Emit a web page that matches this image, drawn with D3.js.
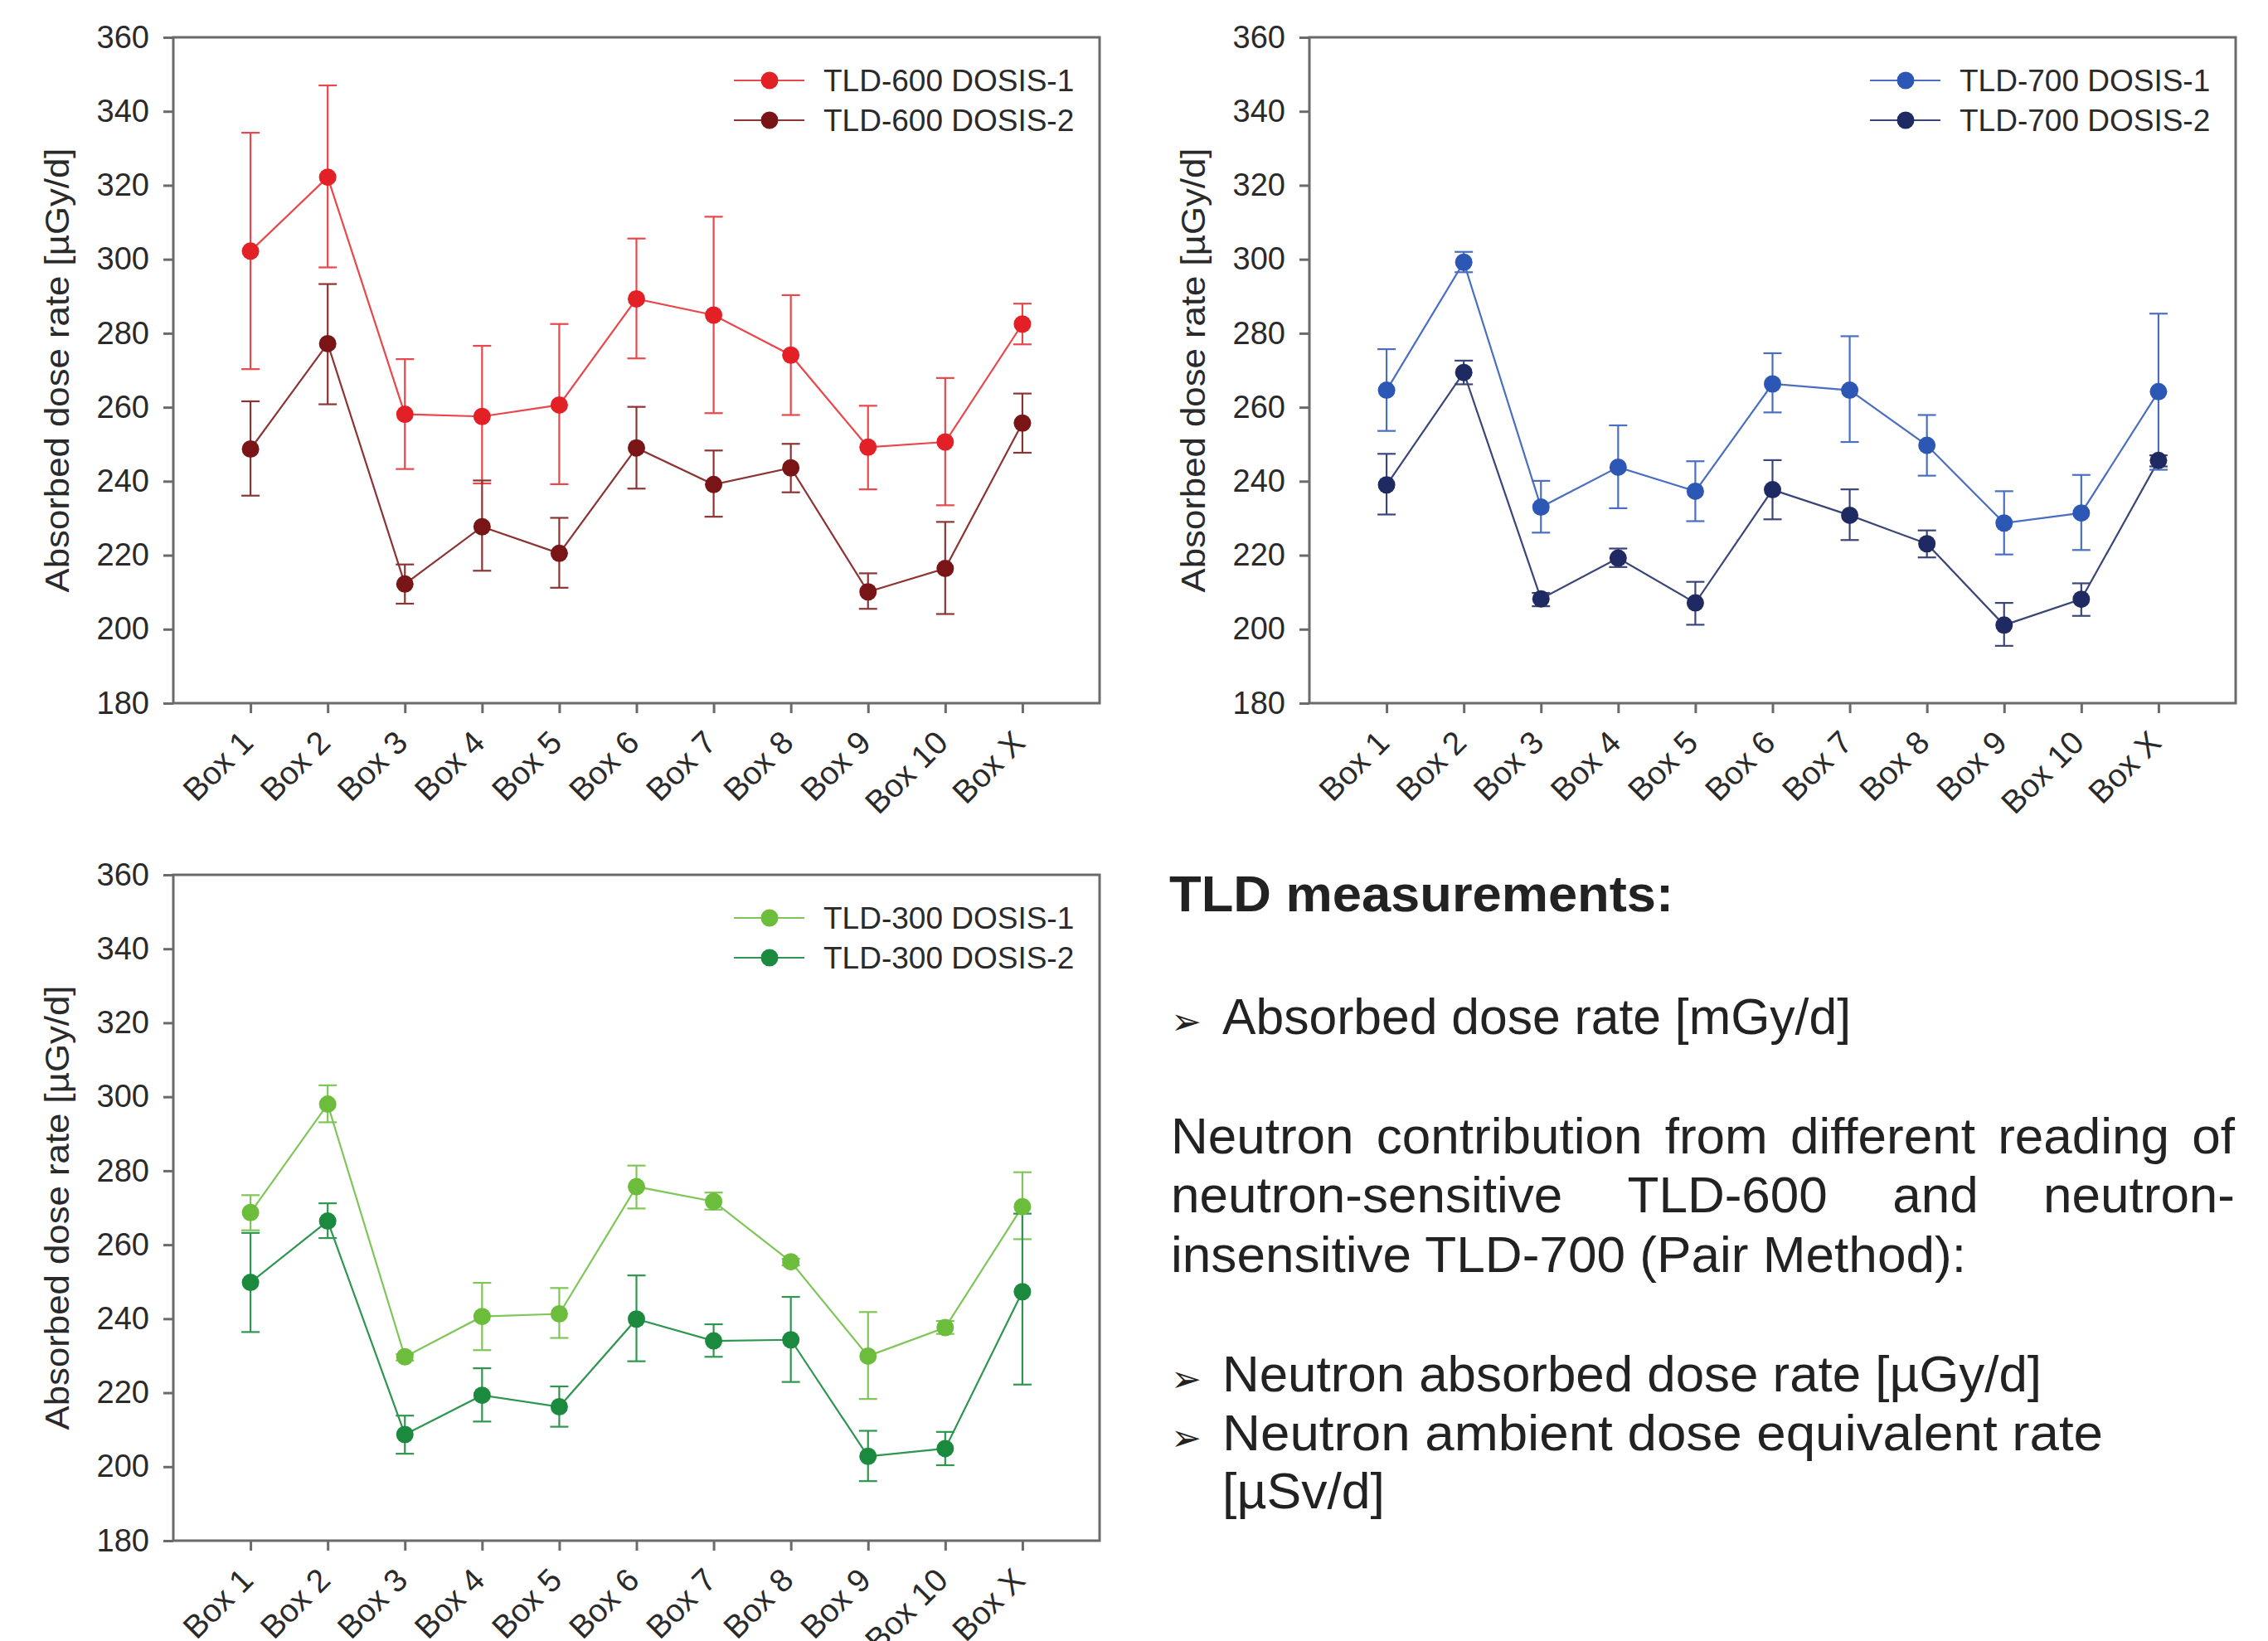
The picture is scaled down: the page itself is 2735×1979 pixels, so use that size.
<!DOCTYPE html>
<html>
<head>
<meta charset="utf-8">
<script src="https://cdn.jsdelivr.net/npm/d3@7"></script>
<style>
  body { margin: 0; background: #fff; }
  svg { display: block; font-family: "Liberation Sans", Arial, sans-serif; }
</style>
</head>
<body>
<svg id="chart" width="2735" height="1979"></svg>
<script>
// categories and ticks
const categories = ["Box 1", "Box 2", "Box 3", "Box 4", "Box 5", "Box 6", "Box 7", "Box 8", "Box 9", "Box 10", "Box X"];
const yTicks = [180, 200, 220, 240, 260, 280, 300, 320, 340, 360];

// TLD-600
const tld600d1 = [302.2, 322.2, 258.1, 257.5, 260.6, 289.3, 284.9, 274.1, 249.2, 250.6, 282.5];
const tld600d1Hi = [334.2, 347.0, 273.0, 276.6, 282.5, 305.6, 311.5, 290.3, 260.4, 267.9, 288.0];
const tld600d1Lo = [270.3, 297.8, 243.3, 239.4, 239.2, 273.2, 258.4, 257.9, 237.8, 233.5, 277.0];
const tld600d2 = [248.7, 277.2, 212.2, 227.7, 220.5, 249.0, 239.1, 243.6, 210.1, 216.4, 255.7];
const tld600d2Hi = [261.6, 293.3, 217.5, 240.2, 230.1, 260.1, 248.3, 250.1, 215.1, 229.0, 263.7];
const tld600d2Lo = [236.1, 260.8, 206.9, 215.8, 211.2, 238.0, 230.4, 237.0, 205.5, 204.1, 247.7];

// TLD-700
const tld700d1 = [264.6, 299.2, 233.0, 243.8, 237.3, 266.3, 264.6, 249.7, 228.7, 231.4, 264.2];
const tld700d1Hi = [275.7, 302.0, 240.1, 255.1, 245.4, 274.6, 279.2, 257.9, 237.3, 241.7, 285.3];
const tld700d1Lo = [253.6, 296.5, 226.1, 232.7, 229.2, 258.6, 250.6, 241.5, 220.2, 221.4, 243.1];
const tld700d2 = [239.0, 269.4, 208.2, 219.2, 207.1, 237.7, 230.8, 223.1, 201.1, 208.1, 245.6];
const tld700d2Hi = [247.4, 272.6, 209.8, 221.8, 212.8, 245.7, 237.8, 226.7, 207.1, 212.4, 247.0];
const tld700d2Lo = [231.0, 266.2, 206.2, 216.8, 201.2, 229.7, 224.1, 219.4, 195.5, 203.6, 244.0];

// TLD-300
const tld300d1 = [268.7, 298.0, 229.7, 240.6, 241.3, 275.7, 271.7, 255.4, 229.9, 237.6, 270.3];
const tld300d1Hi = [273.4, 303.1, 230.4, 249.7, 248.3, 281.4, 274.1, 256.2, 241.8, 239.4, 279.6];
const tld300d1Lo = [263.9, 293.1, 228.7, 231.5, 234.8, 269.8, 269.5, 254.4, 218.3, 235.9, 261.5];
const tld300d2 = [249.8, 266.4, 208.7, 219.3, 216.2, 239.9, 234.0, 234.3, 202.8, 204.9, 247.3];
const tld300d2Hi = [263.2, 271.2, 213.8, 226.6, 221.7, 251.7, 238.5, 245.9, 209.7, 209.4, 268.4];
const tld300d2Lo = [236.4, 261.8, 203.5, 212.2, 210.8, 228.5, 229.7, 222.9, 196.1, 200.4, 222.2];

const yTitle = "Absorbed dose rate [µGy/d]";

const svg = d3.select("#chart");
svg.append("rect").attr("width", 2735).attr("height", 1979).attr("fill", "#fff");

const plotW = 1117, plotH = 803;
const axisColor = "#6a6a6a";
const textColor = "#2a2a2a";

function makeSeries(name, vals, hi, lo, marker, line) {
  return { name, marker, line, points: vals.map((v, i) => ({ cat: categories[i], v, hi: hi[i], lo: lo[i] })) };
}

function drawChart(left, top, series) {
  const g = svg.append("g").attr("transform", `translate(${left},${top})`);
  const x = d3.scalePoint().domain(categories).range([0, plotW]).padding(1);
  const y = d3.scaleLinear().domain([180, 360]).range([plotH, 0]);

  // y axis
  const ya = g.append("g").call(d3.axisLeft(y).tickValues(yTicks).tickSize(12).tickPadding(17));
  ya.select(".domain").remove();
  ya.selectAll(".tick line").attr("stroke", axisColor).attr("stroke-width", 3);
  ya.selectAll(".tick text").attr("font-size", 38).attr("fill", textColor)
    .attr("font-family", "Liberation Sans, Arial, sans-serif");

  // x axis
  const xa = g.append("g").attr("transform", `translate(0,${plotH})`)
    .call(d3.axisBottom(x).tickSize(12));
  xa.select(".domain").remove();
  xa.selectAll(".tick line").attr("stroke", axisColor).attr("stroke-width", 3);
  xa.selectAll(".tick text")
    .attr("font-size", 39).attr("fill", textColor)
    .attr("font-family", "Liberation Sans, Arial, sans-serif")
    .attr("text-anchor", "end")
    .attr("dy", 0)
    .attr("y", 0)
    .attr("transform", "translate(5,50) rotate(-45)");

  // frame
  g.append("rect").attr("width", plotW).attr("height", plotH)
    .attr("fill", "none").attr("stroke", axisColor).attr("stroke-width", 3);

  // y title
  g.append("text")
    .attr("transform", `translate(${-126},${plotH / 2}) rotate(-90)`)
    .attr("text-anchor", "middle")
    .attr("font-size", 41).attr("fill", textColor)
    .attr("textLength", 536).attr("lengthAdjust", "spacingAndGlyphs")
    .text(yTitle);

  const line = d3.line().x(d => x(d.cat)).y(d => y(d.v));

  series.forEach(s => {
    g.append("path").datum(s.points).attr("d", line)
      .attr("fill", "none").attr("stroke", s.line).attr("stroke-width", 2.2);
  });
  series.forEach(s => {
    const eb = g.append("g").attr("stroke", s.line).attr("stroke-width", 2.2);
    eb.selectAll(".bar").data(s.points).enter().append("line")
      .attr("x1", d => x(d.cat)).attr("x2", d => x(d.cat))
      .attr("y1", d => y(d.hi)).attr("y2", d => y(d.lo));
    eb.selectAll(".capHi").data(s.points).enter().append("line")
      .attr("x1", d => x(d.cat) - 11).attr("x2", d => x(d.cat) + 11)
      .attr("y1", d => y(d.hi)).attr("y2", d => y(d.hi));
    eb.selectAll(".capLo").data(s.points).enter().append("line")
      .attr("x1", d => x(d.cat) - 11).attr("x2", d => x(d.cat) + 11)
      .attr("y1", d => y(d.lo)).attr("y2", d => y(d.lo));
  });
  series.forEach(s => {
    g.append("g").selectAll("circle").data(s.points).enter().append("circle")
      .attr("cx", d => x(d.cat)).attr("cy", d => y(d.v)).attr("r", 10.5)
      .attr("fill", s.marker);
  });

  // legend
  const lg = g.append("g").attr("transform", "translate(676,52)");
  series.forEach((s, i) => {
    const row = lg.append("g").attr("transform", `translate(0,${i * 48})`);
    row.append("line").attr("x1", 0).attr("x2", 85).attr("stroke", s.line).attr("stroke-width", 2.2);
    row.append("circle").attr("cx", 43).attr("r", 10.5).attr("fill", s.marker);
    row.append("text").attr("x", 108).attr("dy", "0.36em")
      .attr("font-size", 37).attr("fill", textColor)
      .text(s.name);
  });
}

drawChart(209, 45, [
  makeSeries("TLD-600 DOSIS-1", tld600d1, tld600d1Hi, tld600d1Lo, "#e32026", "#e8474b"),
  makeSeries("TLD-600 DOSIS-2", tld600d2, tld600d2Hi, tld600d2Lo, "#7a1517", "#8c3434")
]);
drawChart(1579, 45, [
  makeSeries("TLD-700 DOSIS-1", tld700d1, tld700d1Hi, tld700d1Lo, "#2c57b4", "#4a6ec0"),
  makeSeries("TLD-700 DOSIS-2", tld700d2, tld700d2Hi, tld700d2Lo, "#1f2a62", "#3b4678")
]);
drawChart(209, 1055, [
  makeSeries("TLD-300 DOSIS-1", tld300d1, tld300d1Hi, tld300d1Lo, "#6bbd3b", "#7fc658"),
  makeSeries("TLD-300 DOSIS-2", tld300d2, tld300d2Hi, tld300d2Lo, "#1b8a3e", "#2f9650")
]);

// text panel
const tx = 1412, tRight = 2695, fs = 62;
const panel = svg.append("g").attr("fill", "#222").attr("font-size", fs);

panel.append("text").attr("x", 1410).attr("y", 1099)
  .attr("font-weight", "bold")
  .attr("textLength", 608).attr("lengthAdjust", "spacingAndGlyphs")
  .text("TLD measurements:");

function fitted(x, y, str, w) {
  return panel.append("text").attr("x", x).attr("y", y)
    .attr("textLength", w).attr("lengthAdjust", "spacingAndGlyphs").text(str);
}
function bullet(y, str, w) {
  panel.append("text").attr("x", tx).attr("y", y)
    .attr("font-family", "DejaVu Sans").attr("font-size", 44).text("➢");
  fitted(1474, y, str, w);
}
function justified(y, str) {
  const words = str.split(" ");
  const nodes = words.map(w => panel.append("text").attr("y", y).text(w));
  const widths = nodes.map(n => n.node().getComputedTextLength());
  const gap = (tRight - tx - d3.sum(widths)) / (words.length - 1);
  let cx = tx;
  nodes.forEach((n, i) => { n.attr("x", cx); cx += widths[i] + gap; });
}

bullet(1247, "Absorbed dose rate [mGy/d]", 758);
justified(1391, "Neutron contribution from different reading of");
justified(1462, "neutron-sensitive TLD-600 and neutron-");
fitted(tx, 1534, "insensitive TLD-700 (Pair Method):", 959);
bullet(1678, "Neutron absorbed dose rate [µGy/d]", 988);
bullet(1749, "Neutron ambient dose equivalent rate", 1062);
fitted(1474, 1819, "[µSv/d]", 196);
</script>
</body>
</html>
